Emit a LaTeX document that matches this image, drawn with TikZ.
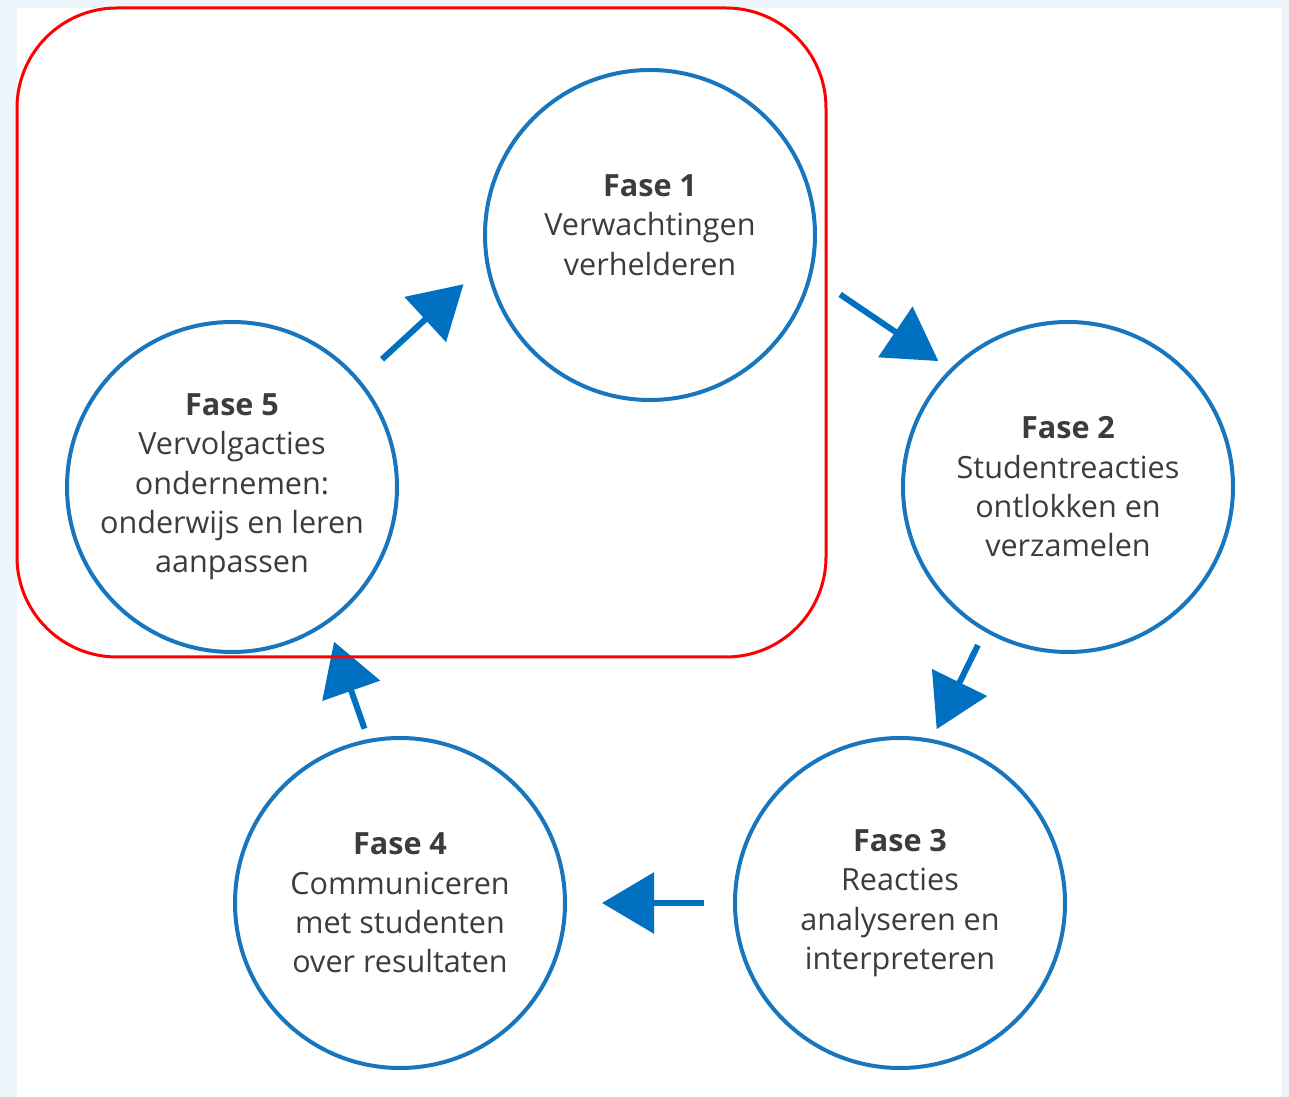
\documentclass[tikz,border=0pt]{standalone}
\usepackage{fontspec}
\setmainfont{Open Sans}
\usetikzlibrary{arrows.meta}
\definecolor{faseblue}{RGB}{24,118,190}
\definecolor{arrowblue}{RGB}{0,112,192}
\definecolor{bgblue}{RGB}{238,245,250}
\definecolor{textgray}{RGB}{60,60,60}
\tikzstyle{fase}=[circle,draw=faseblue,line width=0.4mm,minimum size=33mm,inner sep=0pt,align=center,text=textgray,font=\fontsize{8.7}{11.2}\selectfont]
\tikzstyle{myarrow}=[arrowblue,line width=0.6mm,-{Triangle[length=5.2mm,width=6mm]}]
\tikzstyle{myred}=[red,line width=0.3mm,rounded corners=10mm]

\begin{document}
\begin{tikzpicture}[x=0.1mm,y=-0.1mm]
		\useasboundingbox (0,0) rectangle (1289,1097);
		\fill[bgblue] (0,0) rectangle (1289,1097);
		\fill[white] (17,8) rectangle (1282,1097);

		\node[fase] (f1) at (650,235) {\textbf{Fase 1}\\Verwachtingen\\verhelderen\\[-1.9mm]\mbox{}};
		\node[fase] (f2) at (1068,487) {\textbf{Fase 2}\\Studentreacties\\ontlokken en\\verzamelen};
		\node[fase] (f3) at (900,903) {\textbf{Fase 3}\\Reacties\\analyseren en\\interpreteren};
		\node[fase] (f4) at (400,903) {\textbf{Fase 4}\\Communiceren\\met studenten\\over resultaten};
		\node[fase] (f5) at (232,487) {\textbf{Fase 5}\\Vervolgacties\\ondernemen:\\onderwijs en leren\\aanpassen};

		\draw[myarrow,shorten <=3mm,shorten >=3mm] (f5.40) -- (f1.190);
		\draw[myarrow,shorten <=3.4mm,shorten >=1.4mm] (f1.-14) -- (f2.135);
		\draw[myarrow,shorten <=1.5mm,shorten >=1.1mm] (f2.240) -- (f3.79);
		\draw[myarrow,shorten <=2.9mm,shorten >=3.5mm] (f3.180) -- (f4.0);
		\draw[myarrow,shorten <=1.1mm,shorten >=1.9mm] (f4.101) -- (f5.-55);

%		highlight round phases 5 and 1
		\draw[myred] (17,8) rectangle (826,657);
	\end{tikzpicture}
\end{document}
